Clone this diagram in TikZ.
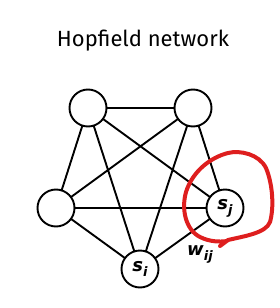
\documentclass[tikz,border=0pt]{standalone}
\usepackage{fontspec}
\setmainfont{Fira Sans}
\newfontfamily\labfont{DejaVu Sans}
\tikzset{
  neuron/.style={circle, draw=black, line width=1.9pt, minimum size=37pt, inner sep=0pt, fill=white},
  edge/.style={line width=1.9pt, black},
  lab/.style={font=\labfont\bfseries\itshape\fontsize{18}{18}\selectfont},
  redmark/.style={line width=4pt, draw={rgb,255:red,222;green,30;blue,30}, line cap=round, line join=round}
}
\begin{document}
\begin{tikzpicture}[x=1pt,y=-1pt]
\useasboundingbox (0,0) rectangle (279,308);
\node[font=\fontsize{22}{22}\selectfont] (title) at (143,41) {Hopfield network};
\coordinate (ptl) at (88,108);
\coordinate (ptr) at (193,108);
\coordinate (pl) at (56,208);
\coordinate (pr) at (225,208);
\coordinate (pb) at (140,269);
\draw[edge] (ptl)--(ptr) (ptl)--(pl) (ptl)--(pr) (ptl)--(pb)
  (ptr)--(pl) (ptr)--(pr) (ptr)--(pb) (pl)--(pr) (pl)--(pb) (pb)--(pr);
\node[neuron] (tl) at (ptl) {};
\node[neuron] (tr) at (ptr) {};
\node[neuron] (l) at (pl) {};
\node[neuron, lab] (r) at (pr) {s\raisebox{-5pt}{\fontsize{13}{13}\selectfont j}};
\node[neuron, lab] (b) at (pb) {s\raisebox{-5pt}{\fontsize{13}{13}\selectfont i}};
\node[lab] (w) at (200,254) {w\raisebox{-5pt}{\fontsize{13}{13}\selectfont ij}};
\draw[redmark] (220,246) -- (228,240) .. controls (245,236) and (266,233) .. (270,222)
  .. controls (274,208) and (273,185) .. (266,168)
  .. controls (259,154) and (240,150) .. (228,153)
  .. controls (212,157) and (193,170) .. (186,192)
  .. controls (181,210) and (186,230) .. (200,237)
  .. controls (210,242) and (220,242) .. (227,241);
\end{tikzpicture}
\end{document}
